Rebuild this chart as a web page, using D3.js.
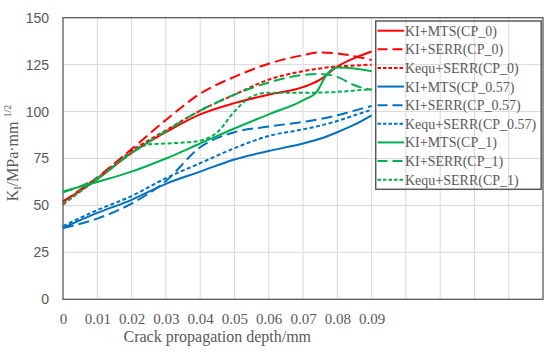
<!DOCTYPE html>
<html><head><meta charset="utf-8">
<script src="https://cdn.jsdelivr.net/npm/d3@7"></script>
<style>html,body{margin:0;padding:0;background:#fff;}</style>
</head><body>
<svg id="c" width="550" height="354"></svg>
<script>
// ---- data ----
const depthStd = [0, 0.01, 0.02, 0.03, 0.04, 0.05, 0.06, 0.07, 0.075, 0.08, 0.085, 0.09];
const depthGreenMTS = [0, 0.01, 0.02, 0.03, 0.04, 0.05, 0.06, 0.07, 0.074, 0.077, 0.08, 0.085, 0.09];
const depthGreenKequ = [0, 0.01, 0.02, 0.025, 0.03, 0.035, 0.04, 0.045, 0.05, 0.055, 0.06, 0.07, 0.08, 0.09];

const kiMtsCp0    = [52, 64, 78, 89, 98.5, 104.5, 109, 113, 117, 124, 128.5, 132];
const kiSerrCp0   = [52, 65, 80, 95.5, 109.5, 118.5, 125.5, 130, 131.5, 131, 129.5, 127.5];
const kequSerrCp0 = [50.5, 64.5, 79, 90, 100.5, 109, 117, 121.5, 123, 124, 124.5, 125];
const kiMtsCp057    = [38, 46, 53, 61.5, 68, 74.5, 79, 83, 85.5, 89, 93, 98];
const kiSerrCp057   = [38, 43, 51, 63, 81, 89, 92, 94.5, 96, 98, 100.5, 103];
const kequSerrCp057 = [39, 47.5, 55, 64.5, 72.5, 80.5, 87, 90.5, 92.5, 95, 98, 101];
const kiMtsCp1    = [57.5, 62.5, 68, 75, 83, 91, 98.5, 106, 110.5, 120, 123.5, 123, 121.5];
const kiSerrCp1   = [57, 64.5, 78, 89.5, 100.5, 109, 115.5, 119.5, 120, 118.5, 114, 111.5];
const kequSerrCp1 = [51, 64, 78, 82.5, 83, 83.5, 84.5, 89, 100, 108, 110, 110, 110.5, 112];

const seriesNames = ["KI+MTS(CP_0)","KI+SERR(CP_0)","Kequ+SERR(CP_0)",
  "KI+MTS(CP_0.57)","KI+SERR(CP_0.57)","Kequ+SERR(CP_0.57)",
  "KI+MTS(CP_1)","KI+SERR(CP_1)","Kequ+SERR(CP_1)"];
const xTickLabels = [0, 0.01, 0.02, 0.03, 0.04, 0.05, 0.06, 0.07, 0.08, 0.09];
const yTicks = [0, 25, 50, 75, 100, 125, 150];

// ---- styling ----
const RED = "#FF0000", BLUE = "#0070C0", GREEN = "#00B050";
const SOLID = null, DASH = "11,5", DOT = "4,2.5";
const series = [
  {name: seriesNames[0], x: depthStd, y: kiMtsCp0, color: RED, dash: SOLID},
  {name: seriesNames[1], x: depthStd, y: kiSerrCp0, color: RED, dash: DASH},
  {name: seriesNames[2], x: depthStd, y: kequSerrCp0, color: RED, dash: DOT},
  {name: seriesNames[3], x: depthStd, y: kiMtsCp057, color: BLUE, dash: SOLID},
  {name: seriesNames[4], x: depthStd, y: kiSerrCp057, color: BLUE, dash: DASH},
  {name: seriesNames[5], x: depthStd, y: kequSerrCp057, color: BLUE, dash: DOT},
  {name: seriesNames[6], x: depthGreenMTS, y: kiMtsCp1, color: GREEN, dash: SOLID},
  {name: seriesNames[7], x: depthStd, y: kiSerrCp1, color: GREEN, dash: DASH},
  {name: seriesNames[8], x: depthGreenKequ, y: kequSerrCp1, color: GREEN, dash: DOT},
];

const svg = d3.select("#c");
const L = 63, R = 543, T = 17.7, B = 299.3;
const x = d3.scaleLinear().domain([0, 0.14]).range([L, R]);
const y = d3.scaleLinear().domain([0, 150]).range([B, T]);
const GRID = "#d9d9d9", TXT = "#595959";

// grid
const gx = d3.range(1, 14).map(i => i / 100);
svg.append("g").selectAll("line").data(gx).join("line")
  .attr("x1", d => x(d)).attr("x2", d => x(d)).attr("y1", T).attr("y2", B)
  .attr("stroke", GRID).attr("stroke-width", 1);
svg.append("g").selectAll("line").data(yTicks.slice(1, -1)).join("line")
  .attr("x1", L).attr("x2", R).attr("y1", d => y(d)).attr("y2", d => y(d))
  .attr("stroke", GRID).attr("stroke-width", 1);

// axes (labels only)
const yAxis = d3.axisLeft(y).tickValues(yTicks).tickSize(0).tickPadding(14);
const ya = svg.append("g").attr("transform", `translate(${L},0)`).call(yAxis);
ya.select(".domain").remove();
ya.selectAll("text").attr("font-family", "Liberation Sans, Arial, sans-serif")
  .attr("font-size", 14).attr("fill", TXT);

const xAxis = d3.axisBottom(x).tickValues(xTickLabels).tickSize(0).tickPadding(14)
  .tickFormat(d => d === 0 ? "0" : d3.format(".2f")(d));
const xa = svg.append("g").attr("transform", `translate(0,${B})`).call(xAxis);
xa.select(".domain").remove();
xa.selectAll("text").attr("font-family", "Liberation Serif, Times New Roman, serif")
  .attr("font-size", 15).attr("fill", TXT);

// plot border
svg.append("rect").attr("x", L).attr("y", T).attr("width", R - L).attr("height", B - T)
  .attr("fill", "none").attr("stroke", "#595959").attr("stroke-width", 1.3);

// lines
const line = d3.line().x(d => x(d[0])).y(d => y(d[1])).curve(d3.curveMonotoneX);
svg.append("g").selectAll("path").data(series).join("path")
  .attr("d", s => line(s.x.map((v, i) => [v, s.y[i]])))
  .attr("fill", "none").attr("stroke", s => s.color).attr("stroke-width", 2)
  .attr("stroke-dasharray", s => s.dash);

// axis titles
svg.append("text").attr("x", (x(0) + x(0.09)) / 2).attr("y", 342)
  .attr("text-anchor", "middle").attr("font-family", "Liberation Serif, Times New Roman, serif")
  .attr("font-size", 16).attr("fill", TXT).text("Crack propagation depth/mm");

const yt = svg.append("text").attr("transform", "translate(18,153) rotate(-90)")
  .attr("text-anchor", "middle").attr("font-family", "Liberation Serif, Times New Roman, serif")
  .attr("font-size", 16).attr("fill", TXT);
yt.append("tspan").text("K");
yt.append("tspan").attr("font-size", 10).attr("dy", 3).text("I");
yt.append("tspan").attr("dy", -3).text("/MPa·mm ");
yt.append("tspan").attr("font-size", 10).attr("dy", -7).text("1/2");

// legend
const lg = svg.append("g");
lg.append("rect").attr("x", 375.7).attr("y", 21).attr("width", 165.5).attr("height", 168.3)
  .attr("fill", "none").attr("stroke", "#595959").attr("stroke-width", 1.5);
const rowY = i => 30.7 + i * 18.62;
const items = lg.selectAll("g.it").data(series).join("g").attr("class", "it");
items.append("line").attr("x1", 377.5).attr("x2", 404).attr("y1", (d, i) => rowY(i)).attr("y2", (d, i) => rowY(i))
  .attr("stroke", d => d.color).attr("stroke-width", 2).attr("stroke-dasharray", d => d.dash === DASH ? "10,5" : d.dash === DOT ? "3.5,2" : null);
items.append("text").attr("x", 405).attr("y", (d, i) => rowY(i) + 5)
  .attr("font-family", "Liberation Serif, Times New Roman, serif").attr("font-size", 14)
  .attr("fill", TXT).text(d => d.name);
</script>
</body></html>
